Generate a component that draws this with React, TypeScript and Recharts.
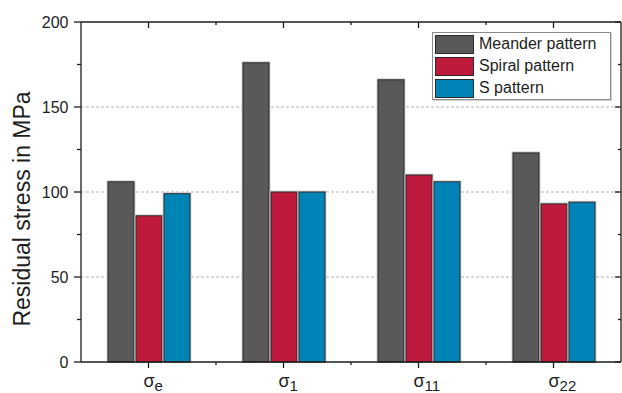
import React from 'react';
import { BarChart, Bar, XAxis, YAxis, CartesianGrid, Legend } from 'recharts';

// ---- data ----
const categories = ['e', '1', '11', '22']; // subscripts of σ
const meander = [106, 176, 166, 123];
const spiral = [86, 100, 110, 93];
const sPattern = [99, 100, 106, 94];
const seriesNames = ['Meander pattern', 'Spiral pattern', 'S pattern'];
const yTicks = [0, 25, 50, 75, 100, 125, 150, 175, 200];
const majorYTicks = [0, 50, 100, 150, 200];
const gridValues = [50, 100, 150];
const yMin = 0;
const yMax = 200;
const yLabel = 'Residual stress in MPa';

const data = categories.map((c, i) => ({
  name: c,
  meander: meander[i],
  spiral: spiral[i],
  s: sPattern[i],
}));

// ---- style ----
const W = 622;
const H = 393;
const MARGIN = { top: 22, right: 1, bottom: 0, left: 0 };
const Y_AXIS_W = 81;
const X_AXIS_H = 31;
const PLOT_L = MARGIN.left + Y_AXIS_W;
const PLOT_T = MARGIN.top;
const PLOT_W = W - MARGIN.left - MARGIN.right - Y_AXIS_W;
const PLOT_H = H - MARGIN.top - MARGIN.bottom - X_AXIS_H;
const PLOT_R = PLOT_L + PLOT_W;
const PLOT_B = PLOT_T + PLOT_H;
const BAND = PLOT_W / categories.length;
const FONT = '"Liberation Sans", Arial, Helvetica, sans-serif';
const AXIS = '#1c1c1c';
const AXIS_W = 1.3;
const TEXT = '#1e1e1e';
const COLORS = ['#595959', '#BE1A3C', '#0083B7'];

const BottomTick = (props: any) => {
  const x = Number(props.x);
  const y = Number(props.y);
  const value = String(props.payload?.value);
  return (
    <g>
      <line x1={x} x2={x} y1={y} y2={y + 6} stroke={AXIS} strokeWidth={AXIS_W} />
      <text x={x - 5} y={y + 25} fontSize={18} fontFamily={FONT} fill={TEXT} textAnchor="start">
        <tspan>σ</tspan>
        <tspan fontSize={15} dy={4}>{value}</tspan>
      </text>
    </g>
  );
};

const LeftTick = (props: any) => {
  const x = Number(props.x);
  const y = Number(props.y);
  const v = Number(props.payload?.value);
  const major = majorYTicks.includes(v);
  return (
    <g>
      <line x1={x - (major ? 7 : 4)} x2={x} y1={y} y2={y} stroke={AXIS} strokeWidth={AXIS_W} />
      {major && (
        <text x={x - 12.5} y={y} dy="0.355em" fontSize={16} fontFamily={FONT} fill={TEXT} textAnchor="end">
          {v}
        </text>
      )}
    </g>
  );
};

const YLabel = (props: any) => {
  const vb = props.viewBox || { x: 0, y: MARGIN.top, width: Y_AXIS_W, height: PLOT_H };
  const lx = Number(vb.x) + 30;
  const ly = Number(vb.y) + Number(vb.height) / 2 + 17;
  return (
    <text
      x={lx}
      y={ly}
      transform={`rotate(-90, ${lx}, ${ly})`}
      textAnchor="middle"
      fontSize={23}
      fontFamily={FONT}
      fill={TEXT}
    >
      {yLabel}
    </text>
  );
};

const BarShape = (props: any) => {
  const x = Number(props.x);
  const y = Number(props.y);
  const width = Number(props.width);
  const height = Number(props.height);
  if (!height || height <= 0) return null;
  return (
    <g>
      <rect x={x - 0.8} y={y - 0.8} width={width + 1.6} height={height + 0.8} fill="none" stroke="#c8c8c8" strokeWidth={1.2} />
      <rect x={x} y={y} width={width} height={height} fill={props.fill} stroke="#2a2a2a" strokeWidth={1} />
    </g>
  );
};

const LegendContent = (props: any) => {
  const payload = (props.payload || [])
    .filter((p: any) => seriesNames.includes(p.value))
    .sort((a: any, b: any) => seriesNames.indexOf(a.value) - seriesNames.indexOf(b.value));
  return (
    <div
      style={{
        border: '1px solid #8a8a8a',
        boxShadow: '1px 1px 0 #d2d2d2',
        background: '#fff',
        padding: '0 2px',
        width: 179,
        boxSizing: 'border-box',
        fontFamily: FONT,
      }}
    >
      {payload.map((p: any) => (
        <div key={p.value} style={{ display: 'flex', alignItems: 'center', height: 22 }}>
          <span
            style={{
              display: 'inline-block',
              width: 39,
              height: 19,
              background: p.color,
              border: '1px solid #2a2a2a',
              boxSizing: 'border-box',
            }}
          />
          <span style={{ marginLeft: 5, fontSize: 16, color: TEXT, lineHeight: '22px', whiteSpace: 'nowrap' }}>
            {p.value}
          </span>
        </div>
      ))}
    </div>
  );
};

// frame decoration: top and right edges with inward ticks, and minor ticks on the bottom edge
const Frame = () => {
  const yPos = (v: number) => PLOT_B - ((v - yMin) / (yMax - yMin)) * PLOT_H;
  return (
    <svg
      width={W}
      height={H}
      style={{ position: 'absolute', left: 0, top: 0, pointerEvents: 'none', overflow: 'visible', zIndex: 5 }}
    >
      <line x1={PLOT_L} x2={PLOT_R} y1={PLOT_T} y2={PLOT_T} stroke={AXIS} strokeWidth={AXIS_W} />
      <line x1={PLOT_R} x2={PLOT_R} y1={PLOT_T} y2={PLOT_B} stroke={AXIS} strokeWidth={AXIS_W} />
      {categories.map((c, i) => {
        const cx = PLOT_L + BAND * (i + 0.5);
        const bx = PLOT_L + BAND * i;
        return (
          <g key={c}>
            <line x1={cx} x2={cx} y1={PLOT_T} y2={PLOT_T + 6} stroke={AXIS} strokeWidth={AXIS_W} />
            {i > 0 && <line x1={bx} x2={bx} y1={PLOT_T} y2={PLOT_T + 3} stroke={AXIS} strokeWidth={AXIS_W} />}
            {i > 0 && <line x1={bx} x2={bx} y1={PLOT_B} y2={PLOT_B + 3} stroke={AXIS} strokeWidth={AXIS_W} />}
          </g>
        );
      })}
      {yTicks.map((v) => {
        const major = majorYTicks.includes(v);
        const y = yPos(v);
        return <line key={v} x1={PLOT_R - (major ? 6 : 3)} x2={PLOT_R} y1={y} y2={y} stroke={AXIS} strokeWidth={AXIS_W} />;
      })}
    </svg>
  );
};

export default function App() {
  return (
    <div style={{ position: 'absolute', left: 0, top: 0, width: W, height: H, background: '#fff' }}>
      <BarChart width={W} height={H} data={data} margin={MARGIN} barSize={26} barGap={2}>
        <CartesianGrid vertical={false} horizontalValues={gridValues} stroke="#b4b4b4" strokeDasharray="3 2" />
        <XAxis
          dataKey="name"
          height={X_AXIS_H}
          axisLine={{ stroke: AXIS, strokeWidth: AXIS_W }}
          tickLine={false}
          tickSize={0}
          tickMargin={0}
          tick={<BottomTick />}
          interval={0}
        />
        <YAxis
          width={Y_AXIS_W}
          domain={[yMin, yMax]}
          ticks={yTicks}
          interval={0}
          axisLine={{ stroke: AXIS, strokeWidth: AXIS_W }}
          tickLine={false}
          tickSize={0}
          tickMargin={0}
          tick={<LeftTick />}
          label={<YLabel />}
        />
        <Legend
          layout="vertical"
          align="center"
          verticalAlign="middle"
          content={<LegendContent />}
          wrapperStyle={{ left: 432, top: 32, width: 179 }}
        />
        <Bar dataKey="meander" name={seriesNames[0]} fill={COLORS[0]} shape={<BarShape />} isAnimationActive={false} />
        <Bar dataKey="spiral" name={seriesNames[1]} fill={COLORS[1]} shape={<BarShape />} isAnimationActive={false} />
        <Bar dataKey="s" name={seriesNames[2]} fill={COLORS[2]} shape={<BarShape />} isAnimationActive={false} />
      </BarChart>
      <Frame />
    </div>
  );
}
